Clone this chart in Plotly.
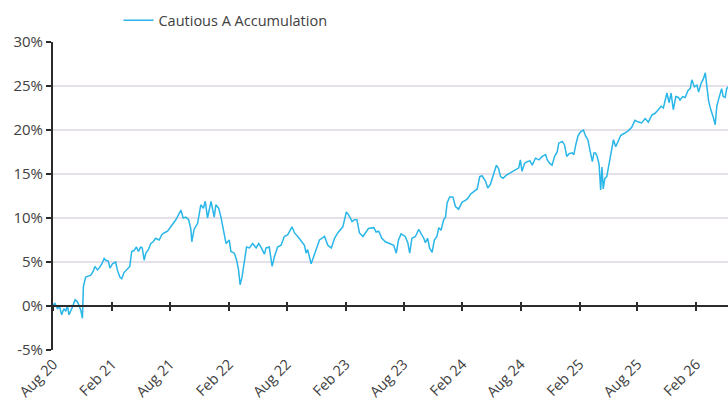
import plotly.graph_objects as go

dates = [
"2020-07-31","2020-08-06","2020-08-14","2020-08-21","2020-08-27","2020-09-03","2020-09-09","2020-09-14","2020-09-19","2020-09-25",
"2020-09-30","2020-10-08","2020-10-15","2020-10-20","2020-10-26","2020-10-31","2020-11-03","2020-11-10","2020-11-18","2020-11-26",
"2020-12-03","2020-12-09","2020-12-17","2020-12-22","2020-12-31","2021-01-07","2021-01-12","2021-01-20","2021-01-25","2021-02-02",
"2021-02-12","2021-02-17","2021-02-25","2021-03-03","2021-03-10","2021-03-17","2021-03-24","2021-03-28","2021-04-03","2021-04-10",
"2021-04-18","2021-04-24","2021-05-01","2021-05-06","2021-05-12","2021-05-17","2021-05-25","2021-06-02","2021-06-09","2021-06-17",
"2021-06-28","2021-07-06","2021-07-13","2021-07-24","2021-08-07","2021-08-19","2021-09-04","2021-09-11","2021-09-19","2021-09-28",
"2021-10-05","2021-10-08","2021-10-15","2021-10-26","2021-11-05","2021-11-13","2021-11-19","2021-11-26","2021-12-07","2021-12-17",
"2021-12-22","2021-12-31","2022-01-07","2022-01-14","2022-01-23","2022-02-02","2022-02-07","2022-02-18","2022-02-25","2022-03-03",
"2022-03-08","2022-03-14","2022-03-21","2022-03-28","2022-04-06","2022-04-16","2022-04-27","2022-05-05","2022-05-12","2022-05-23",
"2022-05-28","2022-06-07","2022-06-16","2022-06-23","2022-07-03","2022-07-14","2022-07-24","2022-08-04","2022-08-17","2022-08-25",
"2022-09-04","2022-09-15","2022-09-25","2022-09-30","2022-10-05","2022-10-16","2022-10-26","2022-11-11","2022-11-27","2022-12-07",
"2022-12-18","2022-12-28","2023-01-07","2023-01-23","2023-02-03","2023-02-11","2023-02-21","2023-02-28","2023-03-08","2023-03-16",
"2023-03-27","2023-04-13","2023-04-30","2023-05-07","2023-05-15","2023-05-25","2023-06-05","2023-06-21","2023-07-01","2023-07-09",
"2023-07-16","2023-07-24","2023-08-06","2023-08-14","2023-08-20","2023-08-27","2023-09-07","2023-09-17","2023-09-24","2023-10-03",
"2023-10-08","2023-10-15","2023-10-21","2023-10-29","2023-11-05","2023-11-13","2023-11-19","2023-11-26","2023-12-04","2023-12-10",
"2023-12-15","2023-12-23","2024-01-02","2024-01-10","2024-01-20","2024-01-31","2024-02-10","2024-02-17","2024-02-26","2024-03-07",
"2024-03-18","2024-03-26","2024-04-02","2024-04-13","2024-04-20","2024-04-28","2024-05-09","2024-05-17","2024-05-24","2024-05-30",
"2024-06-07","2024-06-18","2024-06-28","2024-07-08","2024-07-19","2024-07-26","2024-07-31","2024-08-05","2024-08-13","2024-08-21",
"2024-08-30","2024-09-06","2024-09-16","2024-09-27","2024-10-07","2024-10-18","2024-10-23","2024-10-31","2024-11-07","2024-11-15",
"2024-11-23","2024-11-28","2024-12-09","2024-12-16","2024-12-23","2024-12-30","2025-01-09","2025-01-14","2025-01-20","2025-01-27",
"2025-02-04","2025-02-13","2025-02-20","2025-02-27","2025-03-06","2025-03-13","2025-03-18","2025-03-23","2025-03-28","2025-04-03",
"2025-04-08","2025-04-12","2025-04-16","2025-04-21","2025-04-27","2025-05-04","2025-05-11","2025-05-18","2025-05-25","2025-06-01",
"2025-06-10","2025-06-20","2025-07-03","2025-07-14","2025-07-24","2025-08-04","2025-08-14","2025-08-25","2025-09-04","2025-09-15",
"2025-09-25","2025-10-05","2025-10-14","2025-10-21","2025-11-01","2025-11-08","2025-11-14","2025-11-21","2025-11-29","2025-12-07",
"2025-12-12","2025-12-20","2025-12-28","2026-01-06","2026-01-13","2026-01-18","2026-01-26","2026-02-03","2026-02-08","2026-02-16",
"2026-02-23","2026-03-01","2026-03-06","2026-03-11","2026-03-16","2026-03-22","2026-03-27","2026-04-01","2026-04-06","2026-04-11",
"2026-04-16","2026-04-21","2026-04-26","2026-05-02","2026-05-07","2026-05-11",
]

values = [
0.1,0.3,-0.3,-0.1,-1.0,-0.3,-0.6,0.1,-1.0,-0.6,
-0.1,0.7,0.5,0.1,-0.5,-1.4,2.2,3.3,3.4,3.5,
3.9,4.5,4.1,4.3,4.8,5.4,5.2,5.1,4.3,4.8,
5.0,4.1,3.3,3.1,3.8,4.1,4.3,4.5,6.2,6.3,
6.7,6.2,6.7,6.6,5.2,6.0,6.4,7.1,7.3,7.7,
7.5,8.1,8.3,8.5,9.2,9.8,10.9,10.0,10.1,9.8,
8.7,7.3,8.7,9.4,11.5,11.1,11.9,10.0,11.9,10.1,
11.5,11.1,10.1,8.6,7.1,7.5,6.2,6.0,5.2,4.1,
2.4,3.3,5.2,6.7,6.6,7.1,6.6,7.1,6.7,5.9,
6.6,6.7,4.5,5.6,6.7,6.9,7.9,8.1,9.0,8.3,
7.9,7.3,6.9,6.0,6.4,4.8,5.8,7.5,7.9,6.9,
6.6,7.7,8.3,9.0,10.7,10.3,9.6,9.8,9.8,8.3,
7.9,8.8,8.9,8.4,8.5,7.7,7.3,7.1,6.9,6.0,
7.5,8.2,7.9,7.2,6.0,7.7,7.9,8.7,8.3,7.7,
7.2,7.7,6.6,6.1,7.5,7.9,8.9,8.6,9.8,10.1,
11.7,12.4,12.4,11.3,11.0,11.8,12.0,12.2,12.7,13.0,
13.3,14.7,14.8,14.2,13.4,13.8,15.1,16.0,15.6,14.7,
14.5,14.9,15.1,15.3,15.6,15.7,16.6,15.3,16.2,16.4,
16.5,16.0,16.8,16.6,17.0,17.2,16.6,16.2,16.0,17.0,
17.5,18.5,18.7,18.3,17.0,17.3,17.4,17.2,18.3,19.3,
19.8,20.0,19.3,18.9,17.6,16.4,17.4,17.4,17.0,16.1,
13.2,15.8,13.3,14.5,14.7,16.2,17.5,18.9,18.1,18.7,
19.4,19.6,19.9,20.3,21.1,20.9,20.8,21.3,20.9,21.7,
21.9,22.3,22.7,22.5,24.2,23.1,24.2,22.3,23.8,23.7,
23.4,23.8,23.7,24.5,24.7,25.7,24.9,25.1,24.3,25.3,
25.8,26.5,24.9,23.4,22.6,21.7,21.3,20.6,22.7,23.4,
24.2,24.7,23.8,23.7,24.7,24.9,
]

series_name = "Cautious A Accumulation"

tick_dates = ["2020-08-01","2021-02-01","2021-08-01","2022-02-01","2022-08-01","2023-02-01",
              "2023-08-01","2024-02-01","2024-08-01","2025-02-01","2025-08-01","2026-02-01"]
tick_labels = ["Aug 20","Feb 21","Aug 21","Feb 22","Aug 22","Feb 23",
               "Aug 23","Feb 24","Aug 24","Feb 25","Aug 25","Feb 26"]

y_ticks = [-5, 0, 5, 10, 15, 20, 25, 30]

LINE = "#2ab6e8"
TXT = "#404040"
AX = "#2b2b2b"
GRID = "#e4dfe9"
FONT = "Open Sans"
FS = 14.5

fig = go.Figure()
fig.add_trace(go.Scatter(x=dates, y=values, mode="lines", name=series_name,
                         line=dict(color=LINE, width=1.5), xaxis="x", yaxis="y"))
# helper traces carrying the zero-level date axes (tick marks crossing the 0% line)
for ax in ["x2", "x3"]:
    fig.add_trace(go.Scatter(x=[dates[0], dates[-1]], y=[None, None], mode="lines",
                             showlegend=False, hoverinfo="skip", xaxis=ax, yaxis="y"))

xr = [dates[0], dates[-1]]
zero_pos = (0 - y_ticks[0]) / (y_ticks[-1] - y_ticks[0])

fig.update_layout(
    width=728, height=401,
    margin=dict(l=53, r=0, t=42, b=51),
    paper_bgcolor="white", plot_bgcolor="white",
    font=dict(family=FONT, size=FS, color=TXT),
    showlegend=True,
    legend=dict(orientation="h", x=0.097, xanchor="left", y=1.07, yanchor="middle",
                font=dict(family=FONT, size=FS, color=TXT), bgcolor="rgba(0,0,0,0)"),
    xaxis=dict(type="date", range=xr, tickvals=tick_dates, ticktext=tick_labels,
               tickangle=-45, showgrid=False, showline=False, zeroline=False, automargin=False,
               ticks="", ticklabelstandoff=2, tickfont=dict(size=FS, color=TXT)),
    xaxis2=dict(type="date", range=xr, overlaying="x", anchor="free", position=zero_pos,
                tickvals=tick_dates, showticklabels=False, showgrid=False, zeroline=False,
                showline=True, linecolor=AX, linewidth=1.5, automargin=False,
                ticks="outside", ticklen=4, tickwidth=1.5, tickcolor=AX),
    xaxis3=dict(type="date", range=xr, overlaying="x", anchor="free", position=zero_pos,
                tickvals=tick_dates, showticklabels=False, showgrid=False, zeroline=False,
                showline=False, automargin=False,
                ticks="inside", ticklen=4, tickwidth=1.5, tickcolor=AX),
    yaxis=dict(range=[y_ticks[0], y_ticks[-1]], tickvals=y_ticks,
               ticktext=[f"{v}%" for v in y_ticks], automargin=False,
               showgrid=True, gridcolor=GRID, gridwidth=1.5, zeroline=False,
               showline=True, linecolor=AX, linewidth=2,
               ticks="outside", ticklen=5, tickwidth=1.5, tickcolor=AX,
               tickfont=dict(size=15, color=TXT)),
)

fig.write_html("out.html", config={"displayModeBar": False},
               post_script="document.body.style.margin='0';document.body.style.overflow='hidden';")
